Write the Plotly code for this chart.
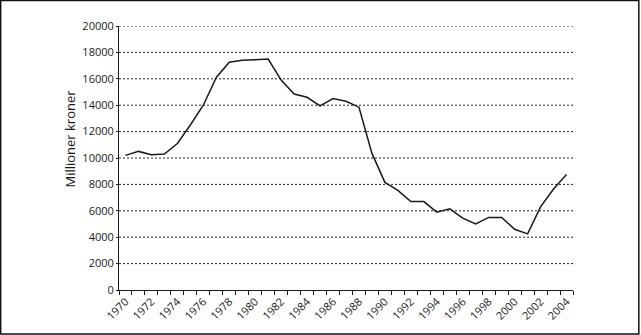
import plotly.graph_objects as go

# Annual amounts, million NOK
years = list(range(1970, 2005))
amounts = [
    10200, 10500, 10250, 10300, 11100, 12500, 14000, 16100, 17250, 17400,
    17450, 17500, 15900, 14850, 14600, 13950, 14500, 14300, 13850, 10350,
    8150, 7550, 6700, 6700, 5900, 6150, 5450, 5000, 5500, 5500,
    4600, 4250, 6300, 7650, 8750,
]
x_tick_years = list(range(1970, 2005, 2))
y_ticks = list(range(0, 20001, 2000))

FONT = "Open Sans, Noto Sans, sans-serif"
INK = "#1a1a1a"

fig = go.Figure()
fig.add_trace(go.Scatter(
    x=years, y=amounts, mode="lines",
    line=dict(color=INK, width=1.5),
    hoverinfo="skip", showlegend=False,
))

# dotted horizontal gridlines (not at zero, where the axis line sits)
for v in y_ticks[1:]:
    fig.add_shape(type="line", xref="paper", yref="y", x0=0, x1=1, y0=v, y1=v,
                  line=dict(color="#222", width=1, dash="2px,2px"), layer="below")

fig.update_layout(
    width=641, height=335,
    margin=dict(l=119, r=68, t=26, b=45),
    paper_bgcolor="white", plot_bgcolor="white",
    font=dict(family=FONT, size=11, color=INK),
    xaxis=dict(
        range=[1969.5, 2004.5],
        tickvals=x_tick_years,
        ticktext=[str(y) for y in x_tick_years],
        tickangle=-45,
        ticks="",
        showgrid=False, zeroline=False,
        showline=True, linecolor=INK, linewidth=1,
        minor=dict(tick0=1969.5, dtick=1, ticks="outside", ticklen=4,
                   tickcolor=INK, tickwidth=1, showgrid=False),
        tickfont=dict(size=11, color=INK, family=FONT),
    ),
    yaxis=dict(
        range=[0, 20000],
        tickvals=y_ticks,
        ticktext=[str(v) for v in y_ticks],
        ticks="outside", ticklen=2, tickcolor=INK,
        showgrid=False, zeroline=False,
        showline=True, linecolor=INK, linewidth=1,
        tickfont=dict(size=11, color=INK, family=FONT),
    ),
    shapes=list(fig.layout.shapes) + [
        dict(type="rect", xref="paper", yref="paper",
             x0=-118.5 / 454.6, x1=(641 - 119 - 1.5) / 454.6,
             y0=-44 / 264, y1=(26 - 0.5) / 264 + 1,
             line=dict(color="#111", width=1.5)),
    ],
    annotations=[dict(
        text="Millioner kroner", xref="paper", yref="paper",
        x=(69.5 - 119) / 454.6, y=(290 - 139) / 264,
        textangle=-90, showarrow=False, font=dict(size=13, family=FONT, color=INK),
        xanchor="center", yanchor="middle",
    )],
)

fig.write_html("out.html")
